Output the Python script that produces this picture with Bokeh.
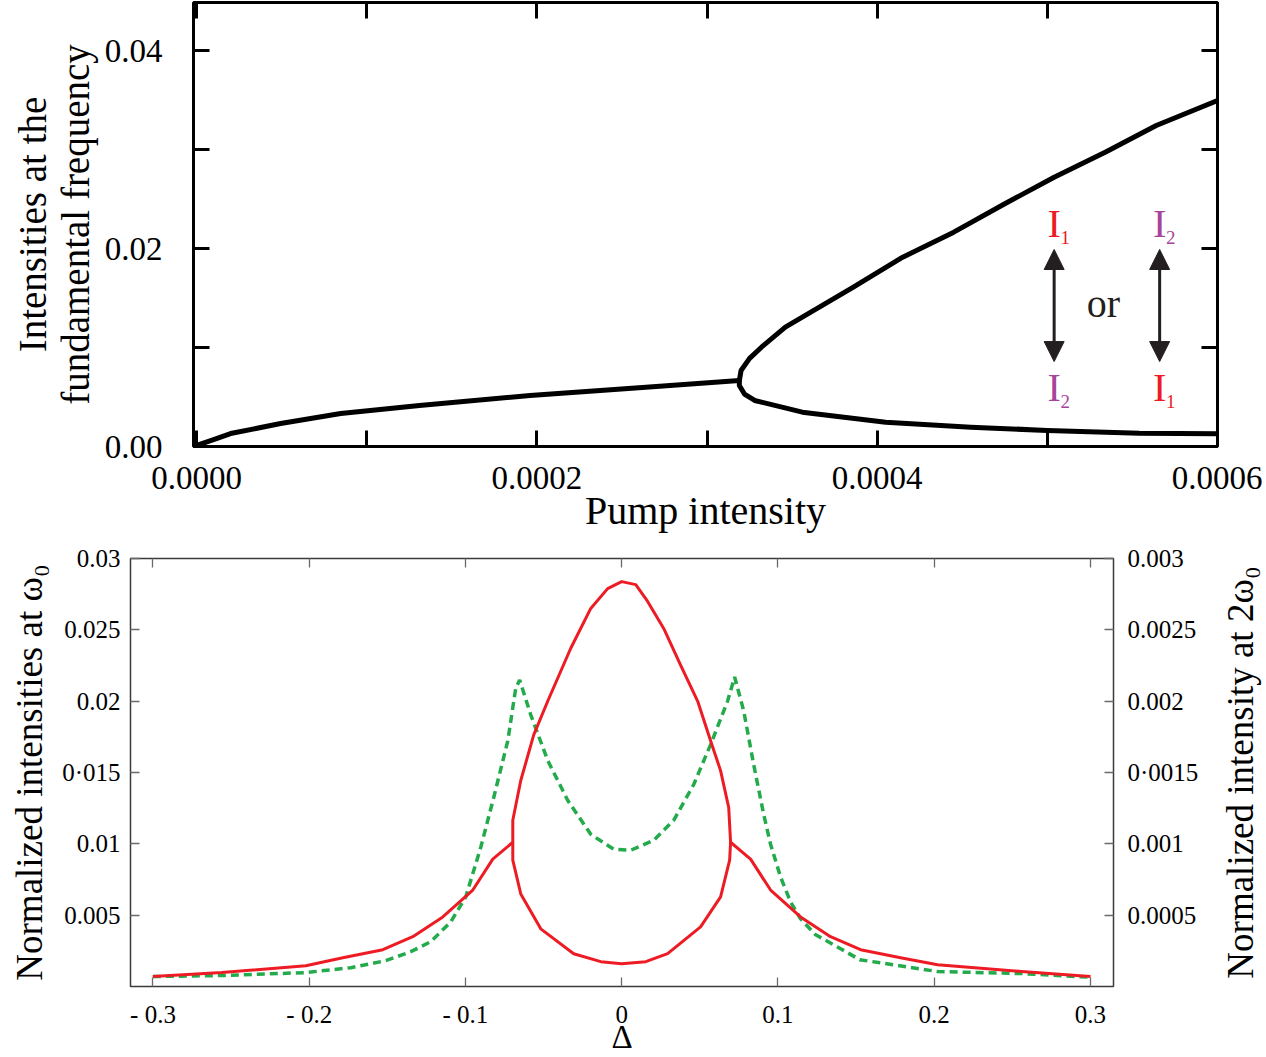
import math
from bokeh.plotting import figure
from bokeh.models import Range1d, LinearAxis, FixedTicker, Label, Arrow, NormalHead
from bokeh.layouts import column, row
from bokeh.embed import file_html
from bokeh.resources import INLINE

FONT = "Liberation Serif"

# ---------------- data: top panel (bifurcation) ----------------
pump_low = [-0.0000018, 0.0000100, 0.0000200, 0.0000494, 0.0000847, 0.000131, 0.000196, 0.000262, 0.000319]
int_low = [0.0, 0.00070, 0.00131, 0.00232, 0.00333, 0.00414, 0.00515, 0.00596, 0.00667]

pump_up = [0.000319, 0.000320, 0.000325, 0.000332, 0.000346, 0.000366, 0.000386, 0.000415, 0.000445,
           0.000475, 0.000504, 0.000534, 0.000564, 0.000600]
int_up = [0.00667, 0.00768, 0.00890, 0.01003, 0.01205, 0.01407, 0.01609, 0.01912, 0.02165,
          0.02452, 0.02720, 0.02973, 0.03242, 0.03495]

pump_dn = [0.000319, 0.000319, 0.000322, 0.000328, 0.000356, 0.000405, 0.000455, 0.000500, 0.000554, 0.000600]
int_dn = [0.00667, 0.00616, 0.00530, 0.00465, 0.00347, 0.00245, 0.00195, 0.00162, 0.00134, 0.00128]

top_x_ticks = [0.0, 0.0001, 0.0002, 0.0003, 0.0004, 0.0005, 0.0006]
top_x_labels = ["0.0000", "", "0.0002", "", "0.0004", "", "0.0006"]
top_y_ticks = [0.0, 0.01, 0.02, 0.03, 0.04]
top_y_labels = ["0.00", "", "0.02", "", "0.04"]

# ---------------- data: bottom panel (detuning scan) ----------------
red_outer_delta = [-0.3001, -0.2559, -0.2022, -0.1785, -0.1529, -0.1337, -0.1145, -0.0953, -0.0825, -0.0697,
                   -0.0697, -0.0646, -0.0563, -0.0473, -0.0326, -0.0198, -0.0090, 0.0000, 0.0090, 0.0166,
                   0.0269, 0.0377, 0.0486, 0.0569, 0.0633, 0.0685, 0.0697,
                   0.0825, 0.0953, 0.1145, 0.1337, 0.1529, 0.1785, 0.2022, 0.2559, 0.3001]
red_outer_int = [0.00070, 0.00098, 0.00146, 0.00202, 0.00258, 0.00349, 0.00488, 0.00676, 0.00893, 0.01011,
                 0.01165, 0.01444, 0.01764, 0.02001, 0.02371, 0.02650, 0.02789, 0.02838, 0.02817, 0.02699,
                 0.02510, 0.02252, 0.02001, 0.01722, 0.01513, 0.01255, 0.01011,
                 0.00893, 0.00676, 0.00488, 0.00349, 0.00258, 0.00202, 0.00153, 0.00105, 0.00070]

red_inner_delta = [-0.0697, -0.0697, -0.0646, -0.0518, -0.0307, -0.0134, 0.0000, 0.0154, 0.0294,
                   0.0505, 0.0633, 0.0691, 0.0697]
red_inner_int = [0.01011, 0.00886, 0.00649, 0.00404, 0.00230, 0.00174, 0.00160, 0.00174, 0.00230,
                 0.00418, 0.00628, 0.00886, 0.01011]

green_delta = [-0.3001, -0.2566, -0.2022, -0.1734, -0.1510, -0.1350, -0.1222, -0.1094, -0.0998, -0.0902,
               -0.0819, -0.0729, -0.0678, -0.0653, -0.0582, -0.0473, -0.0345, -0.0198, -0.0051, 0.0058,
               0.0205, 0.0333, 0.0461, 0.0569, 0.0678, 0.0723, 0.0781, 0.0845, 0.0909, 0.0953,
               0.1017, 0.1081, 0.1145, 0.1241, 0.1401, 0.1523, 0.2022, 0.2559, 0.3000]
green_int2 = [0.0000697, 0.0000767, 0.0000976, 0.000132, 0.000181, 0.000244, 0.000314, 0.000453, 0.000628, 0.000976,
              0.001325, 0.001722, 0.002092, 0.002148, 0.001904, 0.001583, 0.001304, 0.001067, 0.000962, 0.000955,
              0.001025, 0.001165, 0.001416, 0.001695, 0.002001, 0.002169, 0.001932, 0.001555, 0.001206, 0.000997,
              0.000767, 0.000593, 0.000474, 0.000363, 0.000265, 0.000188, 0.000105, 0.0000907, 0.0000650]

bot_x_ticks = [-0.3, -0.2, -0.1, 0.0, 0.1, 0.2, 0.3]
bot_x_labels = ["- 0.3", "- 0.2", "- 0.1", "0", "0.1", "0.2", "0.3"]
bot_y_ticks = [0.005, 0.01, 0.015, 0.02, 0.025, 0.03]
bot_y_labels = ["0.005", "0.01", "0\u00b7015", "0.02", "0.025", "0.03"]
bot_y2_ticks = [0.0005, 0.001, 0.0015, 0.002, 0.0025, 0.003]
bot_y2_labels = ["0.0005", "0.001", "0\u00b70015", "0.002", "0.0025", "0.003"]

RED = "#ed1c24"
PURPLE = "#a6449b"
GREEN = "#22aa4b"
DARK = "#231f20"


def style_axis(ax, ticks, labels, font_size, tick_in, tick_w, color):
    ax.ticker = FixedTicker(ticks=ticks)
    ax.major_label_overrides = {t: l for t, l in zip(ticks, labels)}
    ax.major_tick_in = tick_in
    ax.major_tick_out = 0
    ax.minor_tick_in = 0
    ax.minor_tick_out = 0
    ax.major_tick_line_width = tick_w
    ax.major_tick_line_color = color
    ax.axis_line_color = None
    ax.major_label_text_font = FONT
    ax.major_label_text_font_size = font_size
    ax.major_label_text_color = "black"
    ax.axis_label_text_font = FONT
    ax.axis_label_text_font_style = "normal"
    ax.axis_label_text_color = "black"


# ---------------- top figure ----------------
p1 = figure(width=1262, height=544, x_range=Range1d(-0.0000018, 0.0006), y_range=Range1d(0, 0.04485),
            output_backend="svg", toolbar_location=None,
            min_border_left=193, min_border_right=45, min_border_top=2, min_border_bottom=98)
p1.frame_align = False
p1.grid.visible = False
p1.outline_line_color = "black"
p1.outline_line_width = 3
p1.outline_line_alpha = 1.0

style_axis(p1.xaxis[0], top_x_ticks, top_x_labels, "33px", 16, 3, "black")
p1.xaxis[0].axis_label = "Pump intensity"
p1.xaxis[0].axis_label_text_font_size = "40px"
p1.xaxis[0].major_label_standoff = 20
p1.xaxis[0].axis_label_standoff = -4

style_axis(p1.yaxis[0], top_y_ticks, top_y_labels, "33px", 16, 3, "black")
p1.yaxis[0].axis_label = "Intensities at the\nfundamental frequency"
p1.yaxis[0].axis_label_text_font_size = "39px"
p1.yaxis[0].axis_label_text_line_height = 1.0
p1.yaxis[0].major_label_standoff = 31
p1.yaxis[0].axis_label_standoff = 5

ax_r = LinearAxis()
style_axis(ax_r, top_y_ticks, ["" for _ in top_y_ticks], "0px", 16, 3, "black")
ax_r.major_label_standoff = 0
p1.add_layout(ax_r, "right")
ax_t = LinearAxis()
style_axis(ax_t, top_x_ticks, ["" for _ in top_x_ticks], "0px", 16, 3, "black")
ax_t.major_label_standoff = 0
p1.add_layout(ax_t, "above")

p1.line(pump_low, int_low, line_color="black", line_width=5, line_join="round", line_cap="round")
p1.line(pump_up[::-1] + pump_dn[1:], int_up[::-1] + int_dn[1:], line_color="black", line_width=5,
        line_join="round", line_cap="round")

# annotation: I1 <-> I2 or I2 <-> I1
ann_x1 = 0.000504
ann_x2 = 0.000566
ann_or_x = 0.000533
ann_top = 0.02253
ann_bot = 0.00596
arr_top = 0.0201
arr_bot = 0.00838


def sym(x, y, main_color, sub):
    p1.add_layout(Label(x=x, y=y, text="I", text_font=FONT, text_font_size="40px", text_color=main_color,
                        text_align="center", text_baseline="middle"))
    p1.add_layout(Label(x=x, y=y, x_offset=11, y_offset=-14, text=sub, text_font=FONT, text_font_size="19px",
                        text_color=main_color, text_align="center", text_baseline="middle"))


sym(ann_x1, ann_top, RED, "1")
sym(ann_x1, ann_bot, PURPLE, "2")
sym(ann_x2, ann_top, PURPLE, "2")
sym(ann_x2, ann_bot, RED, "1")
for ax_ in (ann_x1, ann_x2):
    p1.add_layout(Arrow(x_start=ax_, y_start=arr_bot + 0.0002, x_end=ax_, y_end=arr_top - 0.0002,
                        line_color=DARK, line_width=3,
                        start=NormalHead(size=20, fill_color=DARK, line_color=DARK),
                        end=NormalHead(size=20, fill_color=DARK, line_color=DARK)))
p1.add_layout(Label(x=ann_or_x, y=0.01444, text="or", text_font=FONT, text_font_size="40px",
                    text_color=DARK, text_align="center", text_baseline="middle"))

# ---------------- bottom figure ----------------
P2_W = 1212
P2_H = 513
p2 = figure(width=P2_W, height=P2_H, x_range=Range1d(-0.3144, 0.3148), y_range=Range1d(0, 0.03),
            output_backend="svg", toolbar_location=None,
            min_border_left=130, min_border_right=P2_W - 1113, min_border_top=14, min_border_bottom=67)
p2.frame_align = False
p2.extra_y_ranges = {"y2": Range1d(0, 0.003)}
p2.grid.visible = False
p2.outline_line_color = "#3a3a3a"
p2.outline_line_width = 1.5
p2.outline_line_alpha = 1.0

GRAYTICK = "#6a6a6a"
style_axis(p2.xaxis[0], bot_x_ticks, bot_x_labels, "25px", 9, 1.3, GRAYTICK)
p2.xaxis[0].axis_label = "\u0394"
p2.xaxis[0].axis_label_text_font_size = "33px"
p2.xaxis[0].major_label_standoff = 14
p2.xaxis[0].axis_label_standoff = -12

style_axis(p2.yaxis[0], bot_y_ticks, bot_y_labels, "25px", 9, 1.3, GRAYTICK)
p2.yaxis[0].axis_label = "Normalized intensities at \u03c9\u2080"
p2.yaxis[0].axis_label_text_font_size = "37px"
p2.yaxis[0].major_label_standoff = 10
p2.yaxis[0].axis_label_standoff = 9

ax2r = LinearAxis(y_range_name="y2")
style_axis(ax2r, bot_y2_ticks, bot_y2_labels, "25px", 9, 1.3, GRAYTICK)
ax2r.major_label_standoff = 14
p2.add_layout(ax2r, "right")

ax2t = LinearAxis()
style_axis(ax2t, bot_x_ticks, ["" for _ in bot_x_ticks], "0px", 9, 1.3, GRAYTICK)
ax2t.major_label_standoff = 0
p2.add_layout(ax2t, "above")

p2.line(green_delta, green_int2, y_range_name="y2", line_color=GREEN, line_width=3.5, line_dash="8 5")
p2.line(red_outer_delta, red_outer_int, line_color=RED, line_width=3, line_join="round")
p2.line(red_inner_delta, red_inner_int, line_color=RED, line_width=3, line_join="round")

# strip holding the right-hand axis title (reads bottom to top, as in the original)
PL_W = 1266 - P2_W
pl = figure(width=PL_W, height=P2_H, x_range=Range1d(0, PL_W), y_range=Range1d(0, P2_H),
            output_backend="svg", toolbar_location=None,
            min_border_left=0, min_border_right=0, min_border_top=0, min_border_bottom=0)
pl.frame_align = False
pl.axis.visible = False
pl.grid.visible = False
pl.outline_line_color = None
pl.add_layout(Label(x=1240 - P2_W, y=P2_H - (772 - 544), angle=math.pi / 2,
                    text="Normalized intensity at 2\u03c9\u2080", text_font=FONT, text_font_size="37px",
                    text_color="black", text_align="center", text_baseline="middle"))

layout = column(p1, row(p2, pl, spacing=0), spacing=0)
open("out.html", "w").write(file_html(layout, INLINE))
